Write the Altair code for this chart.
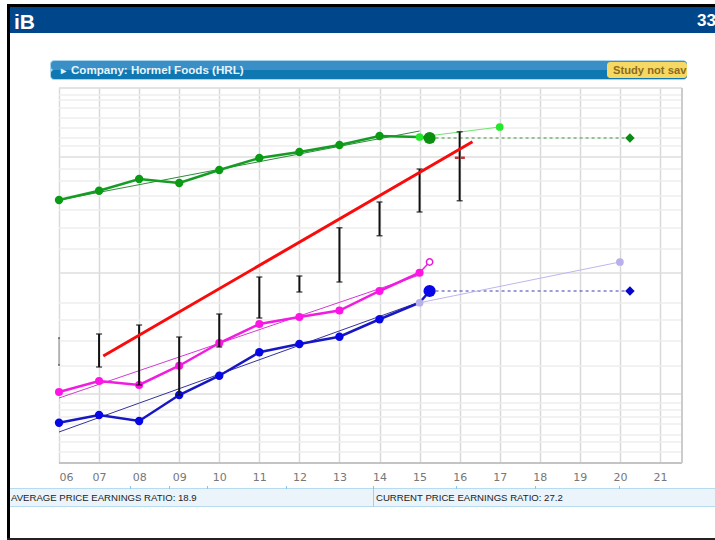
import altair as alt
import pandas as pd

# Fiscal years on the horizontal axis (two-digit labels)
years = list(range(6, 16))
tick_years = list(range(6, 22))

# Ratio-scale chart index readings for each series
top_series = [105.2, 108.9, 113.6, 112.0, 117.2, 122.0, 124.4, 127.2, 130.8, 130.4]
top_trend = [105.2, 132.8]
top_forecast = [130.4, 134.4]
top_forecast_years = [15, 17]
top_current = 130.0

mid_series = [28.4, 32.8, 31.2, 38.9, 48.0, 55.6, 58.4, 61.0, 68.8, 76.1]
mid_trend = [26.0, 75.2]
mid_current = 80.4

low_series = [16.1, 19.2, 16.8, 27.2, 34.9, 44.3, 47.6, 50.5, 57.5, 64.1]
low_trend = [12.4, 64.4]
low_forecast = [64.1, 80.4]
low_forecast_years = [15, 20]
low_current = 68.8

# Yearly price ranges
range_years = [6, 7, 8, 9, 10, 11, 12, 13, 14, 15, 16]
range_high = [50.0, 51.6, 55.2, 50.4, 59.6, 74.4, 74.8, 94.1, 104.4, 117.6, 132.5]
range_low = [39.2, 38.4, 31.2, 27.2, 46.4, 58.0, 68.4, 72.4, 90.9, 100.4, 104.9]

# Hand-drawn trend line and the marker of the latest price
drawn_years = [7.105, 16.32]
drawn_values = [42.8, 128.5]
marker_years = [15.88, 16.13]
marker_values = [122.1, 122.1]

current_year = 15.25
target_year = 20.25

# Horizontal rulings of the ratio scale
grid_minor = [147.2, 145.2, 142, 138, 134, 130, 126.8, 117.6, 112.8, 106.8, 101.2, 94,
              85.6, 64, 57.2, 48.8, 38.8, 24, 21.2, 18.4, 15.6, 11.2, 8.4, 4.4]
grid_major = [122.4, 76, 27.6]

band_ticks = [130, 169, 207, 286, 373, 456, 535, 619]

LEFT, TOP, WIDTH, HEIGHT = 59, 88, 623, 375

x_enc = alt.X(
    "x:Q",
    scale=alt.Scale(domain=[6, 21.55], nice=False, zero=False),
    axis=alt.Axis(
        values=tick_years, format="02d", title=None, domain=False, ticks=False,
        grid=True, gridColor="#d9d9d9", gridWidth=1.5,
        labelColor="#777777", labelFontSize=11, labelFont="DejaVu Sans", labelPadding=8,
    ),
)
y_enc = alt.Y("y:Q", scale=alt.Scale(domain=[0, 150], nice=False, zero=False), axis=None)


def frame(xs, ys):
    return pd.DataFrame({"x": xs, "y": ys})


def line(xs, ys, color, width, dash=None):
    kwargs = {"strokeDash": dash} if dash else {}
    return alt.Chart(frame(xs, ys)).mark_line(color=color, strokeWidth=width, **kwargs).encode(x=x_enc, y=y_enc)


def dots(xs, ys, color, size, shape="circle"):
    return alt.Chart(frame(xs, ys)).mark_point(
        shape=shape, filled=True, color=color, size=size, opacity=1
    ).encode(x=x_enc, y=y_enc)


def rulings(values, color, width):
    return alt.Chart(pd.DataFrame({"y": values})).mark_rule(color=color, strokeWidth=width).encode(y=y_enc)


one = pd.DataFrame({"a": [0]})


def box(x0, y0, x1, y1, color, **mark):
    # Page furniture, placed in canvas pixels relative to the plot origin
    return alt.Chart(one).mark_rect(color=color, **mark).encode(
        x=alt.value(x0 - LEFT), x2=alt.value(x1 - LEFT),
        y=alt.value(y0 - TOP), y2=alt.value(y1 - TOP),
    )


def label(x, y, content, color, size, bold=False, align="left", font="Liberation Sans"):
    return alt.Chart(one).mark_text(
        align=align, baseline="alphabetic", color=color, fontSize=size, font=font,
        fontWeight="bold" if bold else "normal",
    ).encode(x=alt.value(x - LEFT), y=alt.value(y - TOP), text=alt.value(content))


page = [
    box(7, 4, 715, 7, "#000000"),
    box(7, 4, 10, 540, "#000000"),
    box(7, 538, 715, 540, "#222222"),
    box(10, 7, 715, 33, "#00468b"),
    label(14, 29, "iB", "#ffffff", 21, bold=True),
    label(716, 26, "33", "#ffffff", 17, bold=True, align="right"),
    box(50, 60, 687, 80, "#a9d6ee", cornerRadius=4),
    box(51, 61, 687, 70, "#3a90c6", cornerRadius=3),
    box(51, 70, 687, 79, "#0f78b2", cornerRadius=3),
    label(61, 74, "▸", "#dff1fb", 10, bold=True),
    label(71, 74, "Company: Hormel Foods (HRL)", "#e8f4fb", 11.6, bold=True),
    box(607, 62, 687, 78, "#f6d865", cornerRadius=3),
    label(613, 74, "Study not sav", "#8c6c1c", 11.2, bold=True),
    box(10, 488, 715, 507, "#b7dcef"),
    box(10, 489, 715, 506, "#eaf4fa"),
    box(373, 488, 374, 507, "#a3d0e8"),
    label(11, 501, "AVERAGE PRICE EARNINGS RATIO:  18.9", "#222222", 9.6),
    label(376, 501, "CURRENT PRICE EARNINGS RATIO:  27.2", "#222222", 9.6),
]
page += [box(t, 486, t + 1, 489, "#8cc6e4") for t in band_ticks]

grid = [
    rulings(grid_minor, "#eeeeee", 1.5),
    rulings(grid_major, "#dedede", 1.5),
    rulings([0], "#c4c4c4", 2),
    rulings([150], "#dadada", 1.5),
    alt.Chart(pd.DataFrame({"x": [21.55]})).mark_rule(color="#cccccc", strokeWidth=2).encode(x=x_enc),
]

caps_high = alt.Chart(frame(range_years[1:], range_high[1:])).mark_tick(
    orient="horizontal", color="#111111", size=6, thickness=1.5
).encode(x=x_enc, y=y_enc)
caps_low = alt.Chart(frame(range_years[1:], range_low[1:])).mark_tick(
    orient="horizontal", color="#111111", size=6, thickness=1.5
).encode(x=x_enc, y=y_enc)
bars = alt.Chart(
    pd.DataFrame({"x": range_years[1:], "y": range_high[1:], "y2": range_low[1:]})
).mark_rule(color="#111111", strokeWidth=2).encode(x=x_enc, y=y_enc, y2="y2:Q")

# The first year's range is cut off at the chart's left edge
first_range = [
    alt.Chart(pd.DataFrame({"x": [6], "y": [range_high[0]], "y2": [range_low[0]]})).mark_rule(
        color="#8a8a8a", strokeWidth=1
    ).encode(x=x_enc, y=y_enc, y2="y2:Q"),
    alt.Chart(frame([6, 6], [range_high[0], range_low[0]])).mark_tick(
        orient="horizontal", color="#333333", size=2, thickness=1.5
    ).encode(x=x_enc, y=y_enc),
]

series = [
    # Top series
    line([current_year, target_year], [top_current, top_current], "#3f8f3f", 1, [3, 3]),
    line(top_forecast_years, top_forecast, "#6fe36f", 1),
    line([6, 15], top_trend, "#2f8a3a", 1),
    line(years + [current_year], top_series + [top_current], "#149c24", 2.5),
    dots(years[:-1], top_series[:-1], "#0b9a14", 70),
    dots([15, 17], [top_series[-1], top_forecast[1]], "#22e82a", 60),
    dots([current_year], [top_current], "#0a8f10", 150),
    dots([target_year], [top_current], "#0b8a14", 90, "diamond"),
    # Middle series
    line([6, 15], mid_trend, "#d23ad2", 1),
    line(years, mid_series, "#f01ce0", 2.5),
    line([15, current_year], [mid_series[-1], mid_current], "#f01ce0", 1.5),
    dots(years, mid_series, "#ff14e6", 65),
    alt.Chart(frame([current_year], [mid_current])).mark_point(
        shape="circle", filled=True, fill="#ffffff", stroke="#e81cd8", strokeWidth=1.5, size=40, opacity=1
    ).encode(x=x_enc, y=y_enc),
    # Lower series
    line([current_year, target_year], [low_current, low_current], "#3b3bb4", 1, [3, 3]),
    line(low_forecast_years, low_forecast, "#bdb6ee", 1),
    line([6, 15], low_trend, "#33339a", 1),
    line(years + [current_year], low_series + [low_current], "#1717c4", 2.5),
    dots(years[:-1], low_series[:-1], "#0606e6", 70),
    dots([15, 20], [low_series[-1], low_forecast[1]], "#b7b0ea", 60),
    dots([current_year], [low_current], "#0606e6", 150),
    dots([target_year], [low_current], "#0606c8", 90, "diamond"),
]

annotations = [
    bars, caps_high, caps_low,
    line(marker_years, marker_values, "#c8333a", 2.5, [4, 2]),
    line(drawn_years, drawn_values, "#fa0a0a", 3),
]

chart = alt.layer(*page, *grid, *first_range, *series, *annotations).properties(
    width=WIDTH,
    height=HEIGHT,
    padding={"left": LEFT, "top": TOP, "right": 715 - LEFT - WIDTH, "bottom": 540 - TOP - HEIGHT},
    autosize=alt.AutoSizeParams(type="none"),
    background="#ffffff",
).configure_view(stroke=None)

chart.save("out.html", embed_options={"renderer": "svg", "actions": False})
